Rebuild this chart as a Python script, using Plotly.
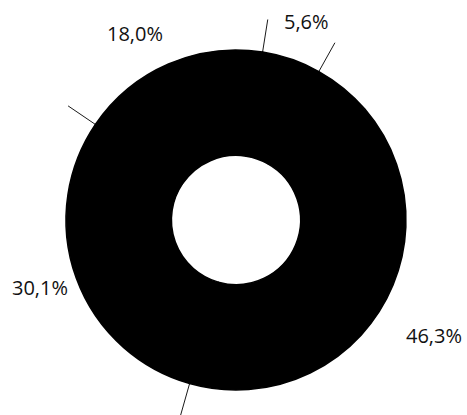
import math
import plotly.graph_objects as go

# Share of each segment, in clockwise order from the top
shares = [5.6, 46.3, 30.1, 18.0]
share_labels = [f"{v:.1f}%".replace(".", ",") for v in shares]

W, H = 467, 415
CX, CY, R = 236, 220, 170        # centre and outer radius in px
HOLE = 0.38
ROTATION = 9                     # start angle, degrees clockwise from 12 o'clock
TICK_IN, TICK_OUT = 166, 203     # leader tick radii in px

# Label anchor points (px from top-left)
label_pos = [(306, 22), (434, 335), (40, 287), (135, 33)]


def px_to_paper(x, y):
    return x / W, 1 - y / H


fig = go.Figure(
    go.Pie(
        values=shares,
        sort=False,
        direction="clockwise",
        rotation=ROTATION,
        hole=HOLE,
        # black outline hides the anti-aliasing seams between segments
        marker=dict(colors=["#000000"] * len(shares),
                    line=dict(color="#000000", width=1.5)),
        textinfo="none",
        hoverinfo="none",
        showlegend=False,
        domain=dict(
            x=[(CX - R) / W, (CX + R) / W],
            y=[1 - (CY + R) / H, 1 - (CY - R) / H],
        ),
    )
)

# Leader ticks at every segment boundary, drawn beneath the ring
shapes = []
total = sum(shares)
acc = 0.0
for v in shares:
    ang = math.radians(ROTATION + 360 * acc / total)
    x0, y0 = CX + TICK_IN * math.sin(ang), CY - TICK_IN * math.cos(ang)
    x1, y1 = CX + TICK_OUT * math.sin(ang), CY - TICK_OUT * math.cos(ang)
    p0, p1 = px_to_paper(x0, y0), px_to_paper(x1, y1)
    shapes.append(dict(type="line", xref="paper", yref="paper", layer="below",
                       x0=p0[0], y0=p0[1], x1=p1[0], y1=p1[1],
                       line=dict(color="#1a1a1a", width=1)))
    acc += v

annotations = []
for text, (lx, ly) in zip(share_labels, label_pos):
    ax, ay = px_to_paper(lx, ly)
    annotations.append(dict(x=ax, y=ay, xref="paper", yref="paper",
                            text=text, showarrow=False,
                            xanchor="center", yanchor="middle",
                            font=dict(family="Open Sans", size=20, color="#111111")))

fig.update_layout(
    width=W, height=H,
    margin=dict(l=0, r=0, t=0, b=0),
    paper_bgcolor="white",
    plot_bgcolor="white",
    shapes=shapes,
    annotations=annotations,
)

fig.write_html("out.html")
